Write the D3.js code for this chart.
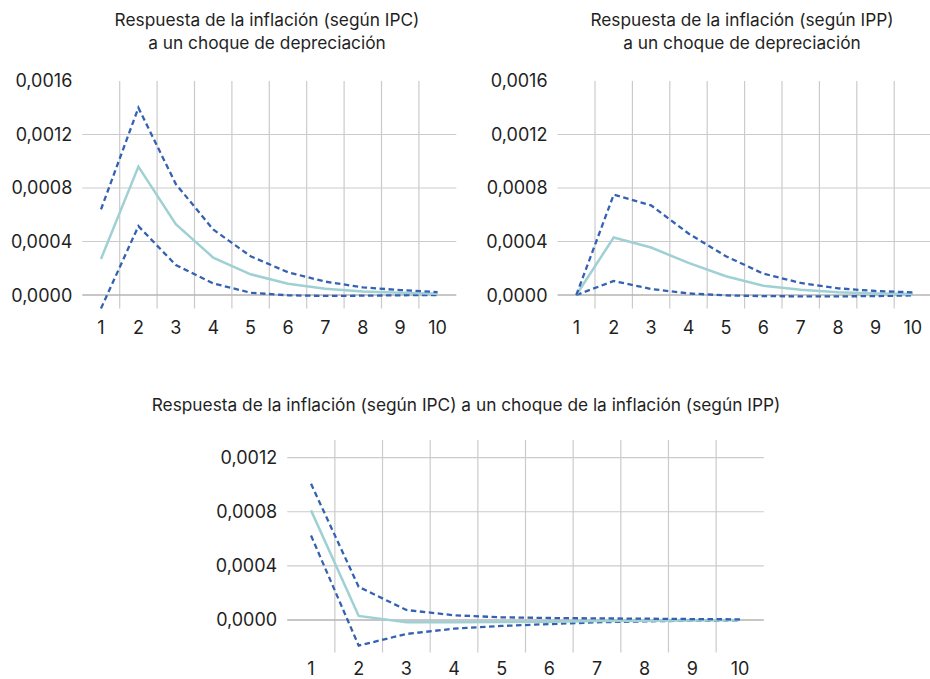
<!DOCTYPE html>
<html>
<head>
<meta charset="utf-8">
<script src="https://cdn.jsdelivr.net/npm/d3@7"></script>
<style>
  html, body { margin: 0; padding: 0; background: #ffffff; }
  svg { display: block; font-family: Inter, "Noto Sans", sans-serif; }
</style>
</head>
<body>
<svg id="chart" width="930" height="679"></svg>
<script>
// ---------- DATA ----------
const periods = ["1","2","3","4","5","6","7","8","9","10"];

// Chart A: inflación (IPC) ante choque de depreciación
const titleA = ["Respuesta de la inflación (según IPC)", "a un choque de depreciación"];
const ticksA = [0, 0.0004, 0.0008, 0.0012, 0.0016];
const centralA = [0.00027, 0.00096, 0.00053, 0.00028, 0.000155, 0.000085, 0.000047, 0.000027, 0.000017, 0.00001];
const upperA   = [0.00064, 0.00140, 0.00083, 0.00049, 0.00029, 0.00017, 0.0001, 0.000057, 0.000037, 0.000022];
const lowerA   = [-0.0001, 0.000515, 0.000224, 0.000087, 0.000017, -0.000002, -0.000007, -0.000005, -0.000002, 0];

// Chart B: inflación (IPP) ante choque de depreciación
const titleB = ["Respuesta de la inflación (según IPP)", "a un choque de depreciación"];
const ticksB = [0, 0.0004, 0.0008, 0.0012, 0.0016];
const centralB = [0, 0.00043, 0.000355, 0.00024, 0.00014, 0.00007, 0.00004, 0.00002, 0.000012, 0.000008];
const upperB   = [0, 0.00075, 0.00067, 0.00046, 0.00029, 0.00016, 0.00009, 0.00005, 0.00003, 0.00002];
const lowerB   = [0, 0.000105, 0.000045, 0.000012, -0.000003, -0.000008, -0.00001, -0.00001, -0.000008, -0.000003];

// Chart C: inflación (IPC) ante choque de inflación (IPP)
const titleC = ["Respuesta de la inflación (según IPC) a un choque de la inflación (según IPP)"];
const ticksC = [0, 0.0004, 0.0008, 0.0012];
const centralC = [0.00081, 0.00003, -0.000017, -0.000017, -0.000015, -0.000012, -0.000008, -0.000005, -0.000003, 0];
const upperC   = [0.001006, 0.000245, 0.000074, 0.000035, 0.00002, 0.000015, 0.000012, 0.00001, 0.000007, 0.000005];
const lowerC   = [0.000624, -0.000189, -0.000103, -0.000064, -0.000044, -0.00003, -0.000017, -0.00001, -0.000005, -0.000002];

// ---------- STYLE ----------
const COL_DASH = "#3461b2";
const COL_MAIN = "#9fd0d4";
const COL_GRID = "#cbcbcb";
const COL_ZERO = "#b4b4b4";
const COL_TEXT = "#1f1f1f";

const locale = d3.formatLocale({decimal: ",", thousands: ".", grouping: [3], currency: ["$", ""]});
const fmt = locale.format(".4f");

const svg = d3.select("#chart");

function drawPanel(cfg) {
  const x = d3.scaleBand().domain(periods).range([cfg.x0, cfg.x1]).padding(0);
  const y = d3.scaleLinear().domain(cfg.domain).range([cfg.yBottom, cfg.yTop]);
  const g = svg.append("g");

  // vertical gridlines at interior band boundaries
  const bounds = periods.slice(1).map(p => x(p));
  g.append("g").selectAll("line").data(bounds).join("line")
    .attr("x1", d => d).attr("x2", d => d)
    .attr("y1", y(cfg.domain[1])).attr("y2", y(cfg.domain[0]))
    .attr("stroke", COL_GRID).attr("stroke-width", 1.2);

  // horizontal gridlines (non-zero)
  g.append("g").selectAll("line").data(cfg.ticks.filter(t => t !== 0 && t < cfg.domain[1] - 1e-9)).join("line")
    .attr("x1", cfg.x0).attr("x2", cfg.x1)
    .attr("y1", d => y(d)).attr("y2", d => y(d))
    .attr("stroke", COL_GRID).attr("stroke-width", 1.2);

  // zero line
  g.append("line")
    .attr("x1", cfg.x0).attr("x2", cfg.x1)
    .attr("y1", y(0)).attr("y2", y(0))
    .attr("stroke", COL_ZERO).attr("stroke-width", 1.6);

  // y tick labels
  g.append("g").selectAll("text").data(cfg.ticks).join("text")
    .attr("x", cfg.x0 - 10).attr("y", d => y(d))
    .attr("dy", "0.36em")
    .attr("text-anchor", "end")
    .attr("font-size", 18).attr("fill", COL_TEXT)
    .text(d => fmt(d));

  // x tick labels
  g.append("g").selectAll("text").data(periods).join("text")
    .attr("x", d => x(d) + x.bandwidth() / 2).attr("y", cfg.xLabelY)
    .attr("dy", "0.36em")
    .attr("text-anchor", "middle")
    .attr("font-size", 18).attr("fill", COL_TEXT)
    .text(d => d);

  // title
  const t = g.append("text").attr("text-anchor", "middle")
    .attr("font-size", 17.3).attr("fill", COL_TEXT);
  cfg.title.forEach((line, i) => {
    t.append("tspan").attr("x", cfg.titleX).attr("y", cfg.titleY + i * 23).attr("dy", "0.36em").text(line);
  });

  const line = d3.line()
    .x((d, i) => x(periods[i]) + x.bandwidth() / 2)
    .y(d => y(d));

  g.append("path").datum(cfg.lower).attr("d", line)
    .attr("fill", "none").attr("stroke", COL_DASH).attr("stroke-width", 2.3)
    .attr("stroke-dasharray", "5.5,3.5");
  g.append("path").datum(cfg.central).attr("d", line)
    .attr("fill", "none").attr("stroke", COL_MAIN).attr("stroke-width", 2.5);
  g.append("path").datum(cfg.upper).attr("d", line)
    .attr("fill", "none").attr("stroke", COL_DASH).attr("stroke-width", 2.3)
    .attr("stroke-dasharray", "5.5,3.5");
}

drawPanel({
  x0: 82.3, x1: 456.3, domain: [-0.0001, 0.0016], yBottom: 308.4, yTop: 81,
  ticks: ticksA, central: centralA, upper: upperA, lower: lowerA,
  title: titleA, titleX: 267, titleY: 20, xLabelY: 328
});

drawPanel({
  x0: 557.6, x1: 931.6, domain: [-0.0001, 0.0016], yBottom: 308.4, yTop: 81,
  ticks: ticksB, central: centralB, upper: upperB, lower: lowerB,
  title: titleB, titleX: 742, titleY: 20, xLabelY: 328
});

drawPanel({
  x0: 287.2, x1: 763.8, domain: [-0.00024, 0.00133], yBottom: 652.5, yTop: 440,
  ticks: ticksC, central: centralC, upper: upperC, lower: lowerC,
  title: titleC, titleX: 466, titleY: 405, xLabelY: 669
});
</script>
</body>
</html>
